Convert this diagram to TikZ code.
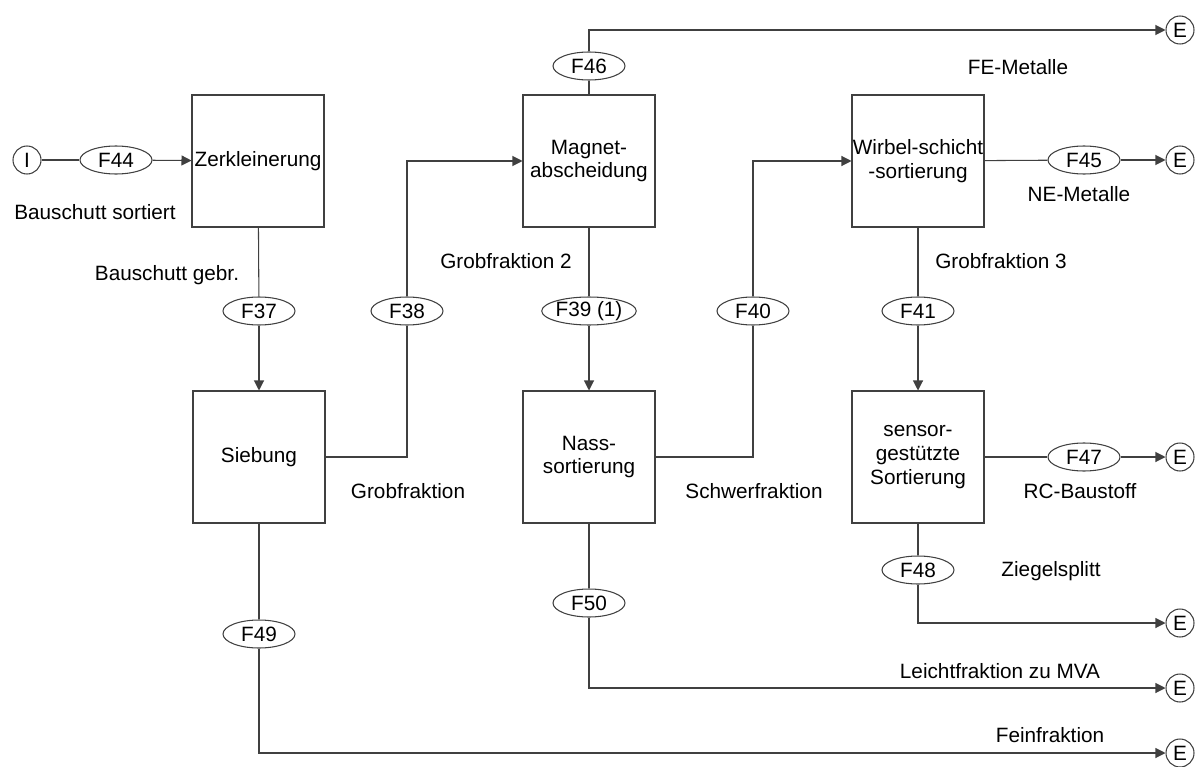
\documentclass[tikz,border=0pt]{standalone}
\usepackage{fontspec}
\setmainfont{Liberation Sans}
\usetikzlibrary{shapes.geometric,arrows.meta}

\begin{document}
\begin{tikzpicture}[x=0.02cm, y=-0.02cm,
		font=\fontsize{11.8}{13.6}\selectfont,
		linie/.style={draw=black!75, line width=0.6pt},
		pfeil/.style={linie, -{Triangle[length=0.2cm, width=0.2cm]}},
		prozess/.style={linie, fill=white, rectangle, minimum width=2.64cm, minimum height=2.64cm, inner sep=0pt, align=center},
		fluss/.style={linie, fill=white, ellipse, minimum width=1.44cm, minimum height=0.56cm, inner sep=0pt},
		ende/.style={linie, fill=white, circle, minimum size=0.56cm, inner sep=0pt}]
		%\draw[lightgray] (0, 0) grid[step=100] (1200, 767);
		\useasboundingbox (0, 0) rectangle (1200, 767);
		
		\node[prozess] (zerkl) at (258, 161) {Zerkleinerung};
		\node[prozess] (sieb) at (259, 457) {Siebung};
		\node[prozess] (magnet) at (589, 161) {Magnet-\\abscheidung};
		\node[prozess] (nass) at (589, 457) {Nass-\\sortierung};
		\node[prozess] (wirbel) at (918, 161) {Wirbel-schicht\\-sortierung};
		\node[prozess] (sensor) at (918, 457) {sensor-\\gestützte\\Sortierung};
		
		\node[ende] (quelle) at (27, 160) {I};
		\node[ende] (eFE) at (1180, 30) {E};
		\node[ende] (eNE) at (1180, 160) {E};
		\node[ende] (eRC) at (1180, 457) {E};
		\node[ende] (eZS) at (1180, 623) {E};
		\node[ende] (eLF) at (1180, 688) {E};
		\node[ende] (eFF) at (1180, 753) {E};
		
		\node[fluss] (f44) at (116, 160) {F44};
		\node[fluss] (f37) at (259, 311) {F37};
		\node[fluss] (f38) at (407, 311) {F38};
		\node[fluss] (f46) at (589, 66) {F46};
		\node[fluss] (f39) at (589, 311) {F39 (1)};
		\node[fluss] (f40) at (753, 311) {F40};
		\node[fluss] (f45) at (1084, 160) {F45};
		\node[fluss] (f41) at (918, 311) {F41};
		\node[fluss] (f47) at (1084, 457) {F47};
		\node[fluss] (f48) at (918, 570) {F48};
		\node[fluss] (f50) at (589, 603) {F50};
		\node[fluss] (f49) at (259, 634) {F49};
		
		\draw[linie] (quelle) -- (f44);
		\draw[pfeil] (f44) -- (zerkl);
		\draw[linie] (zerkl) -- (f37);
		\draw[pfeil] (f37) -- (sieb);
		\draw[linie] (sieb.east) -| (f38);
		\draw[pfeil] (f38) |- (magnet.west);
		\draw[linie] (magnet) -- (f46);
		\draw[pfeil] (f46) |- (eFE);
		\draw[linie] (magnet) -- (f39);
		\draw[pfeil] (f39) -- (nass);
		\draw[linie] (nass.east) -| (f40);
		\draw[pfeil] (f40) |- (wirbel.west);
		\draw[linie] (wirbel) -- (f45);
		\draw[pfeil] (f45) -- (eNE);
		\draw[linie] (wirbel) -- (f41);
		\draw[pfeil] (f41) -- (sensor);
		\draw[linie] (sensor) -- (f47);
		\draw[pfeil] (f47) -- (eRC);
		\draw[linie] (sensor) -- (f48);
		\draw[pfeil] (f48) |- (eZS);
		\draw[linie] (nass) -- (f50);
		\draw[pfeil] (f50) |- (eLF);
		\draw[linie] (sieb) -- (f49);
		\draw[pfeil] (f49) |- (eFF);
		
		\node (tBs) at (95, 212) {Bauschutt sortiert};
		\node (tBg) at (167, 275) {Bauschutt gebr.};
		\node (tGf) at (408, 491) {Grobfraktion};
		\node (tGf2) at (506, 261) {Grobfraktion 2};
		\node (tFe) at (1018, 67) {FE-Metalle};
		\node (tNe) at (1079, 194) {NE-Metalle};
		\node (tGf3) at (1001, 261) {Grobfraktion 3};
		\node (tSf) at (754, 491) {Schwerfraktion};
		\node (tRc) at (1080, 491) {RC-Baustoff};
		\node (tZs) at (1051, 571) {Ziegelsplitt};
		\node (tLf) at (1000, 671) {Leichtfraktion zu MVA};
		\node (tFf) at (1050, 735) {Feinfraktion};
	\end{tikzpicture}
\end{document}
